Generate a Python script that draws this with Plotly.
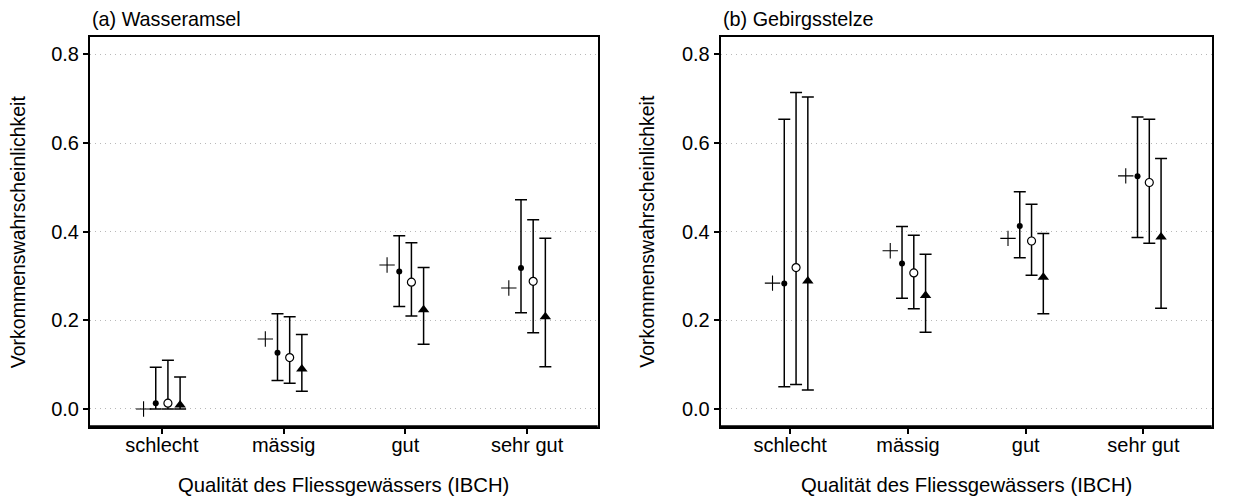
import plotly.graph_objects as go

categories = ["schlecht", "mässig", "gut", "sehr gut"]
cat_pos = [1, 2, 3, 4]

# (a) Wasseramsel
obs_a = [0.0, 0.158, 0.325, 0.273]
m1_a = [0.013, 0.127, 0.310, 0.318]
m1_a_lo = [0.0, 0.064, 0.231, 0.217]
m1_a_hi = [0.094, 0.215, 0.391, 0.472]
m2_a = [0.013, 0.116, 0.286, 0.288]
m2_a_lo = [0.0, 0.058, 0.210, 0.172]
m2_a_hi = [0.110, 0.208, 0.375, 0.427]
m3_a = [0.009, 0.090, 0.224, 0.208]
m3_a_lo = [0.0, 0.040, 0.146, 0.095]
m3_a_hi = [0.072, 0.168, 0.319, 0.385]

# (b) Gebirgsstelze
obs_b = [0.284, 0.357, 0.385, 0.526]
m1_b = [0.283, 0.328, 0.413, 0.525]
m1_b_lo = [0.050, 0.250, 0.341, 0.387]
m1_b_hi = [0.654, 0.412, 0.490, 0.659]
m2_b = [0.319, 0.307, 0.379, 0.511]
m2_b_lo = [0.055, 0.226, 0.302, 0.374]
m2_b_hi = [0.714, 0.392, 0.462, 0.654]
m3_b = [0.289, 0.256, 0.297, 0.388]
m3_b_lo = [0.043, 0.173, 0.215, 0.227]
m3_b_hi = [0.704, 0.349, 0.396, 0.565]

y_ticks = [0.0, 0.2, 0.4, 0.6, 0.8]
panel_titles = ["(a) Wasseramsel", "(b) Gebirgsstelze"]
x_title = "Qualität des Fliessgewässers (IBCH)"
y_title = "Vorkommenswahrscheinlichkeit"

FONT = "Arial, Liberation Sans, Helvetica, sans-serif"
W, H = 1233, 498
offsets = [-0.15, -0.05, 0.05, 0.15]

fig = go.Figure()


def add_panel(xa, ya, obs, series):
    fig.add_trace(go.Scatter(
        x=[p + offsets[0] for p in cat_pos], y=obs, mode="markers",
        marker=dict(symbol="cross-thin", size=11, line=dict(color="black", width=1.1)),
        xaxis=xa, yaxis=ya, showlegend=False, hoverinfo="skip"))
    styles = [
        dict(symbol="circle", size=6, color="black", line=dict(color="black", width=0)),
        dict(symbol="circle", size=8, color="white", line=dict(color="black", width=1.2)),
        dict(symbol="triangle-up", size=10, color="black", line=dict(color="black", width=0)),
    ]
    for k, (vals, lo, hi) in enumerate(series):
        fig.add_trace(go.Scatter(
            x=[p + offsets[k + 1] for p in cat_pos], y=vals, mode="markers",
            error_y=dict(type="data", symmetric=False,
                         array=[h - v for h, v in zip(hi, vals)],
                         arrayminus=[v - l for v, l in zip(vals, lo)],
                         color="black", thickness=1.5, width=6),
            marker=styles[k],
            xaxis=xa, yaxis=ya, showlegend=False, hoverinfo="skip"))


add_panel("x", "y", obs_a, [(m1_a, m1_a_lo, m1_a_hi), (m2_a, m2_a_lo, m2_a_hi), (m3_a, m3_a_lo, m3_a_hi)])
add_panel("x2", "y2", obs_b, [(m1_b, m1_b_lo, m1_b_hi), (m2_b, m2_b_lo, m2_b_hi), (m3_b, m3_b_lo, m3_b_hi)])

left_dom = [90 / W, 597.7 / W]
right_dom = [720.7 / W, 1211.7 / W]
y_dom = [1 - 426.7 / H, 1 - 36.7 / H]

xcommon = dict(range=[0.41, 4.58], tickvals=cat_pos, ticktext=categories,
               showgrid=False, zeroline=False, showline=True, mirror=True,
               linecolor="black", linewidth=2, ticks="outside", ticklen=5,
               tickwidth=1.5, tickcolor="black", ticklabelstandoff=-6,
               tickfont=dict(family=FONT, size=20, color="black"))
ycommon = dict(range=[-0.04, 0.84], tickvals=y_ticks, tickformat=".1f",
               showgrid=True, gridcolor="#b8b8b8", griddash="1px,4px", gridwidth=1.3,
               zeroline=False, showline=True, mirror=True,
               linecolor="black", linewidth=2, ticks="outside", ticklen=5,
               tickwidth=1.5, tickcolor="black",
               tickfont=dict(family=FONT, size=20, color="black"))

fig.update_layout(
    width=W, height=H,
    margin=dict(l=0, r=0, t=0, b=0),
    paper_bgcolor="white", plot_bgcolor="white",
    xaxis=dict(domain=left_dom, anchor="y", **xcommon),
    yaxis=dict(domain=y_dom, anchor="x", **ycommon),
    xaxis2=dict(domain=right_dom, anchor="y2", **xcommon),
    yaxis2=dict(domain=y_dom, anchor="x2", **ycommon),
)

# slightly heavier bottom frame line, as in the reference
shapes = []
for xr, yr in [("x domain", "y domain"), ("x2 domain", "y2 domain")]:
    shapes.append(dict(type="line", xref=xr, yref=yr, x0=0, x1=1, y0=0, y1=0,
                       line=dict(color="black", width=3), layer="above"))
fig.update_layout(shapes=shapes)

ann = []
for dom, ttl, ytx in [(left_dom, panel_titles[0], 17.5), (right_dom, panel_titles[1], 647)]:
    ann.append(dict(text=ttl, x=dom[0], y=1 - 19 / H, xref="paper", yref="paper",
                    xanchor="left", yanchor="middle", showarrow=False,
                    font=dict(family=FONT, size=19.8, color="black")))
    ann.append(dict(text=x_title, x=(dom[0] + dom[1]) / 2, y=1 - 485 / H,
                    xref="paper", yref="paper", xanchor="center", yanchor="middle",
                    showarrow=False, font=dict(family=FONT, size=20.3, color="black")))
    ann.append(dict(text=y_title, x=ytx / W, y=(y_dom[0] + y_dom[1]) / 2,
                    xref="paper", yref="paper", xanchor="center", yanchor="middle",
                    textangle=-90, showarrow=False,
                    font=dict(family=FONT, size=19.5, color="black")))
fig.update_layout(annotations=ann)

fig.write_html("out.html")
